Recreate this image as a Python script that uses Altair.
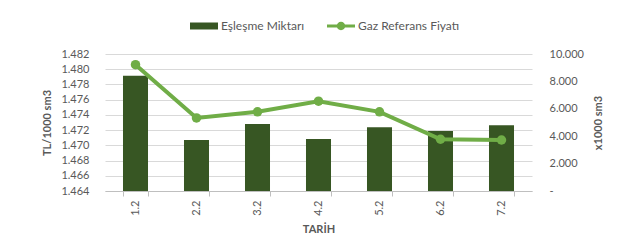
import altair as alt
import pandas as pd

dates = ["1.2", "2.2", "3.2", "4.2", "5.2", "6.2", "7.2"]
volume = [8420, 3720, 4890, 3800, 4650, 4380, 4800]          # Eşleşme Miktarı (x1000 sm3)
price = [1480.6, 1473.6, 1474.4, 1475.8, 1474.4, 1470.8, 1470.7]  # Gaz Referans Fiyatı (TL/1000 sm3)
series_names = ["Eşleşme Miktarı", "Gaz Referans Fiyatı"]
left_ticks = [1464, 1466, 1468, 1470, 1472, 1474, 1476, 1478, 1480, 1482]
right_ticks = [0, 2000, 4000, 6000, 8000, 10000]

BAR = "#375623"
LINE = "#70AD47"
FONT = "Lato"
GREY = "#595959"

df = pd.DataFrame({"tarih": dates, "miktar": volume, "fiyat": price})
leg = pd.DataFrame({"seri": series_names})

xenc = alt.X(
    "tarih:N", sort=dates, title="TARİH",
    scale=alt.Scale(paddingInner=0.59, paddingOuter=0.295),
    axis=alt.Axis(labelAngle=270, tickBand="extent", tickSize=5, tickColor="#bfbfbf",
                  domainColor="#bfbfbf", labelPadding=4, titlePadding=8,
                  labelFontSize=11, titleFontSize=11, titleFontWeight="bold"),
)

fmt = "replace(format(datum.value, ','), ',', '.')"

bars = alt.Chart(df).mark_bar(color=BAR).encode(
    x=xenc,
    y=alt.Y("miktar:Q", title="x1000 sm3",
            scale=alt.Scale(domain=[0, 10000], nice=False),
            axis=alt.Axis(orient="right", values=right_ticks, grid=False, domain=False,
                          ticks=False, labelPadding=17, titleAngle=270,
                          titleX=66, titleY=68.5, titleBaseline="middle", titleAlign="center",
                          labelExpr="datum.value == 0 ? '-' : " + fmt)),
)

line = alt.Chart(df).mark_line(color=LINE, strokeWidth=4,
                               point=alt.OverlayMarkDef(color=LINE, size=90, filled=True)).encode(
    x=xenc,
    y=alt.Y("fiyat:Q", title="TL/1000 sm3",
            scale=alt.Scale(domain=[1464, 1482], nice=False, zero=False),
            axis=alt.Axis(orient="left", values=left_ticks, grid=True, gridColor="#d9d9d9",
                          domain=False, ticks=False, labelPadding=16, titlePadding=8,
                          labelExpr=fmt)),
)

bar_sym = "M-1,-0.25H1V0.25H-1Z"
line_sym = ("M-1,-0.1H1V0.1H-1Z M0.3,0 A0.3,0.3 0 1,1 -0.3,0 A0.3,0.3 0 1,1 0.3,0 Z")

legend_layer = alt.Chart(leg).mark_point(opacity=0, filled=True).encode(
    color=alt.Color("seri:N", scale=alt.Scale(domain=series_names, range=[BAR, LINE]),
                    legend=alt.Legend(title=None, orient="none", direction="horizontal",
                                      legendX=85, legendY=-42, symbolSize=784,
                                      symbolOpacity=1, symbolStrokeWidth=0,
                                      columnPadding=22, labelOffset=3,
                                      labelFontSize=12, labelColor=GREY, labelFont=FONT)),
    shape=alt.Shape("seri:N", scale=alt.Scale(domain=series_names, range=[bar_sym, line_sym]),
                    legend=None),
)

chart = alt.layer(bars, line, legend_layer).resolve_scale(y="independent").properties(
    width=427, height=137,
    padding={"left": 105, "top": 54, "right": 98, "bottom": 58},
    autosize="none",
).configure_view(stroke=None).configure_axis(
    labelFont=FONT, titleFont=FONT, labelColor=GREY, titleColor=GREY,
    labelFontSize=11, titleFontSize=11, titleFontWeight="bold",
)

chart.save("out.html", embed_options={"renderer": "svg", "actions": False})
